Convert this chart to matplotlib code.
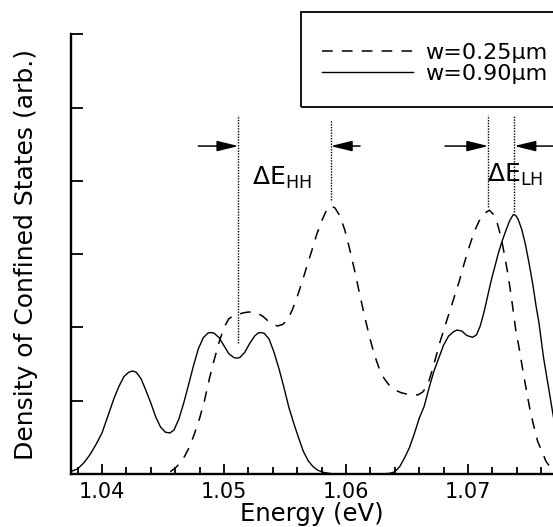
"""
Density of confined states for two wire widths (w=0.25um vs w=0.90um).

Energy shifts of the heavy-hole (HH) and light-hole (LH) peaks are
marked with dotted guide lines and inward-pointing arrows.
"""

import matplotlib
matplotlib.use("Agg")  # headless
import matplotlib.pyplot as plt
from matplotlib.patches import Rectangle
from matplotlib.ticker import FormatStrFormatter, MultipleLocator, NullFormatter

# --- data ------------------------------------------------------------------
# w = 0.25 um (dashed)
energy_025 = [
    1.0440, 1.0450, 1.0455, 1.0460, 1.0464, 1.0468, 1.0472, 1.0476,
    1.0480, 1.0484, 1.0488, 1.0492, 1.0496, 1.0500, 1.0504, 1.0508,
    1.0512, 1.0516, 1.0520, 1.0524, 1.0528, 1.0532, 1.0536, 1.0540,
    1.0544, 1.0548, 1.0552, 1.0556, 1.0560, 1.0564, 1.0568, 1.0572,
    1.0576, 1.0580, 1.0584, 1.05874, 1.0591, 1.0595, 1.0599, 1.0603,
    1.0607, 1.0611, 1.0615, 1.0619, 1.0623, 1.0627, 1.0631, 1.0635,
    1.0640, 1.0645, 1.0650, 1.0655, 1.0659, 1.0663, 1.0667, 1.0670,
    1.0673, 1.0677, 1.0681, 1.0685, 1.0689, 1.0693, 1.0697, 1.0701,
    1.0705, 1.0709, 1.0713, 1.07175, 1.0721, 1.0724, 1.0727, 1.0730,
    1.0733, 1.0736, 1.0739, 1.0742, 1.0745, 1.0748, 1.0751, 1.0754,
    1.0757, 1.0760, 1.0764, 1.0768, 1.0772, 1.0777,
]
dos_025 = [
    0.00, 0.00, 0.02, 0.08, 0.15, 0.25, 0.38, 0.56,
    0.76, 1.00, 1.30, 1.56, 1.80, 2.00, 2.12, 2.16,
    2.18, 2.20, 2.21, 2.21, 2.19, 2.15, 2.09, 2.04,
    2.02, 2.04, 2.10, 2.24, 2.42, 2.62, 2.84, 3.05,
    3.27, 3.45, 3.60, 3.66, 3.63, 3.52, 3.33, 3.07,
    2.78, 2.47, 2.17, 1.89, 1.64, 1.45, 1.31, 1.22,
    1.15, 1.11, 1.09, 1.08, 1.08, 1.12, 1.22, 1.38,
    1.555, 1.80, 2.01, 2.22, 2.43, 2.64, 2.88, 3.10,
    3.30, 3.45, 3.55, 3.60, 3.54, 3.42, 3.24, 2.98,
    2.70, 2.36, 1.98, 1.71, 1.41, 1.13, 0.86, 0.65,
    0.45, 0.33, 0.17, 0.08, 0.03, 0.01,
]

# w = 0.90 um (solid)
energy_090 = [
    1.0374, 1.0380, 1.0385, 1.0390, 1.0395, 1.0400, 1.0405, 1.0410,
    1.0414, 1.0418, 1.0422, 1.04251, 1.0428, 1.0432, 1.0436, 1.0440,
    1.0444, 1.0448, 1.0452, 1.04557, 1.0459, 1.0463, 1.0467, 1.0471,
    1.0475, 1.0479, 1.0483, 1.0487, 1.04896, 1.0492, 1.0496, 1.0500,
    1.0504, 1.0508, 1.05104, 1.0513, 1.0517, 1.0521, 1.0525, 1.0528,
    1.05301, 1.0533, 1.0537, 1.0541, 1.0545, 1.0549, 1.0553, 1.0557,
    1.0561, 1.0565, 1.0569, 1.0573, 1.0577, 1.0582, 1.0590, 1.0630,
    1.0636, 1.0640, 1.0644, 1.0648, 1.0652, 1.0656, 1.0660, 1.0664,
    1.0668, 1.0672, 1.0676, 1.0680, 1.0684, 1.0688, 1.0691, 1.0695,
    1.0699, 1.07038, 1.0707, 1.0710, 1.0713, 1.0716, 1.0719, 1.0722,
    1.0725, 1.0728, 1.0731, 1.0734, 1.0736, 1.07372, 1.0739, 1.0741,
    1.0744, 1.0747, 1.0750, 1.0753, 1.0756, 1.0758, 1.0762, 1.0766,
    1.0770, 1.0775,
]
dos_090 = [
    0.03, 0.07, 0.15, 0.26, 0.40, 0.56, 0.80, 1.04,
    1.20, 1.33, 1.39, 1.405, 1.39, 1.30, 1.14, 0.97,
    0.78, 0.64, 0.57, 0.56, 0.60, 0.75, 0.97, 1.22,
    1.48, 1.71, 1.86, 1.925, 1.93, 1.92, 1.86, 1.75,
    1.64, 1.59, 1.58, 1.59, 1.66, 1.78, 1.88, 1.925,
    1.93, 1.92, 1.84, 1.66, 1.44, 1.19, 0.92, 0.70,
    0.50, 0.31, 0.18, 0.10, 0.05, 0.02, 0.00, 0.00,
    0.01, 0.03, 0.10, 0.22, 0.36, 0.55, 0.76, 0.92,
    1.17, 1.40, 1.58, 1.76, 1.88, 1.94, 1.965, 1.95,
    1.89, 1.865, 1.90, 2.02, 2.20, 2.42, 2.64, 2.83,
    3.02, 3.18, 3.32, 3.45, 3.51, 3.54, 3.53, 3.48,
    3.34, 3.14, 2.88, 2.60, 2.27, 2.08, 1.58, 1.18,
    0.78, 0.35,
]

# dotted guide lines: (energy, y_bottom, y_top)
guides = [
    (1.05118, 1.79, 4.90),
    (1.05875, 3.74, 4.83),
    (1.07166, 3.65, 4.90),
    (1.07380, 3.58, 4.90),
]
# arrows: (tail energy, head energy)
arrows = [
    (1.04789, 1.05118),
    (1.06115, 1.05875),
    (1.06811, 1.07166),
    (1.07800, 1.07380),
]
arrow_y = 4.475
labels = [
    (1.05227, 3.94, r"$\Delta\mathrm{E}_{\mathrm{HH}}$"),
    (1.07153, 3.99, r"$\Delta\mathrm{E}_{\mathrm{LH}}$"),
]
series_labels = ["w=0.25\u03bcm", "w=0.90\u03bcm"]


def main() -> None:
    W, H = 553, 527
    fig = plt.figure(figsize=(W / 100, H / 100), dpi=100)
    ax = fig.add_axes([70.7 / W, 53 / H, (W - 70.7) / W, (474 - 34.3) / H])

    ax.plot(energy_025, dos_025, color="black", lw=1.1, dashes=(7, 6),
            label=series_labels[0])
    ax.plot(energy_090, dos_090, color="black", lw=1.0, label=series_labels[1])

    for e, y0, y1 in guides:
        ax.plot([e, e], [y0, y1], color="black", lw=1.0, ls=(0, (1, 1)))

    for tail, head in arrows:
        ax.annotate("", xy=(head, arrow_y), xytext=(tail, arrow_y),
                    arrowprops=dict(arrowstyle="-|>,head_length=0.65,head_width=0.16",
                                    color="black", lw=1.1, shrinkA=0, shrinkB=0,
                                    mutation_scale=20),
                    annotation_clip=False)

    for e, y, s in labels:
        ax.text(e, y, s, fontsize=18, ha="left", va="baseline")

    ax.set_xlim(1.037434, 1.076967)
    ax.set_ylim(0, 6)

    ax.xaxis.set_major_locator(MultipleLocator(0.01))
    ax.xaxis.set_minor_locator(MultipleLocator(0.002))
    ax.xaxis.set_major_formatter(FormatStrFormatter("%.2f"))
    ax.yaxis.set_major_locator(MultipleLocator(1))
    ax.yaxis.set_major_formatter(NullFormatter())

    ax.tick_params(axis="x", which="major", direction="in", length=7.5,
                   width=1.3, labelsize=15, pad=6)
    ax.tick_params(axis="x", which="minor", direction="in", length=5, width=1.3)
    ax.tick_params(axis="y", which="major", direction="in", length=8.4, width=1.3)

    for side in ("top", "right"):
        ax.spines[side].set_visible(False)
    for side in ("left", "bottom"):
        ax.spines[side].set_linewidth(1.7)

    ax.set_xlabel("Energy (eV)", fontsize=17.5, labelpad=0)
    ax.set_ylabel("Density of Confined States (arb.)", fontsize=18)
    ax.yaxis.set_label_coords(-0.068, 0.5)

    ax.legend(loc="center left", bbox_to_anchor=(321.7 / W, 1 - 63.5 / H),
              bbox_transform=fig.transFigure, frameon=False, fontsize=16,
              borderpad=0, borderaxespad=0, handlelength=4.1,
              handletextpad=0.55, labelspacing=0.05)
    fig.add_artist(Rectangle((301 / W, 1 - 106.7 / H), 0.6, 95 / H,
                             transform=fig.transFigure, fill=False,
                             lw=1.3, color="black"))

    fig.savefig("out.png", dpi=100)
    plt.close(fig)


if __name__ == "__main__":
    main()
